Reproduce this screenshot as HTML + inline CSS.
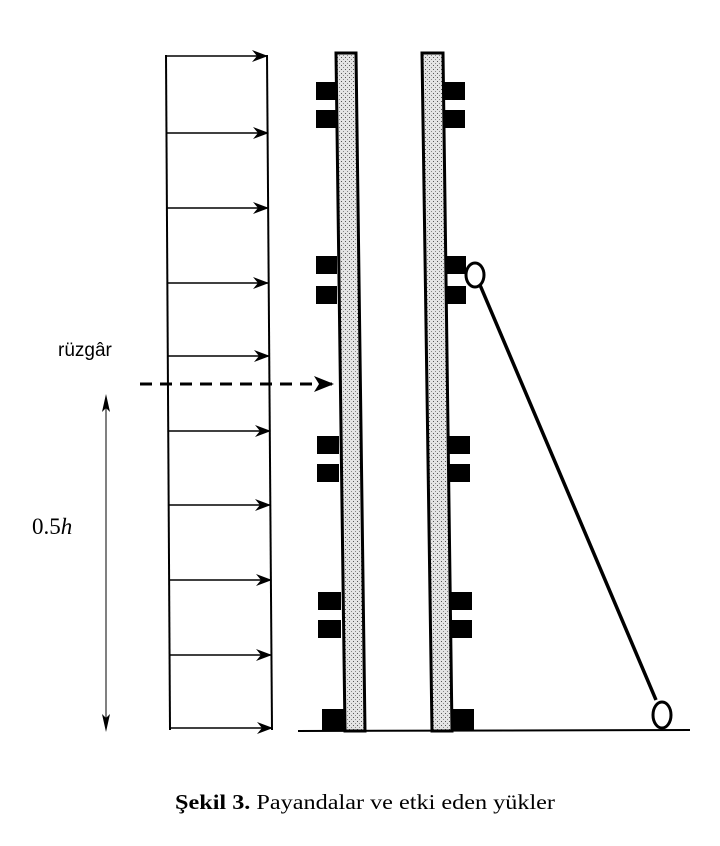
<!DOCTYPE html>
<html><head><style>body{margin:0;background:#fff}</style></head><body>
<svg width="720" height="841" xmlns="http://www.w3.org/2000/svg">
<defs>
<marker id="a" markerWidth="16" markerHeight="12" refX="15" refY="6" orient="auto" markerUnits="userSpaceOnUse"><path d="M0,0 L16,6 L0,12 L5,6z" fill="#000"/></marker>
<marker id="b" markerWidth="20" markerHeight="16" refX="19" refY="8" orient="auto" markerUnits="userSpaceOnUse"><path d="M0,0 L20,8 L0,16 L5,8z" fill="#000"/></marker>
<pattern id="p" width="4" height="4" patternUnits="userSpaceOnUse"><rect width="4" height="4" fill="#e4e4e4"/><rect x="1" y="1" width="1" height="1" fill="#555"/><rect x="3" y="3" width="1" height="1" fill="#888"/></pattern>
</defs>
<g stroke="#000" stroke-width="2" fill="none">
<line x1="166" y1="55" x2="170" y2="730"/>
<line x1="267" y1="55" x2="272" y2="730"/>
</g>
<g stroke="#000" stroke-width="1.5" marker-end="url(#a)">
<line x1="166" y1="56" x2="267" y2="56"/>
<line x1="166" y1="133" x2="268" y2="133"/>
<line x1="167" y1="208" x2="268" y2="208"/>
<line x1="167" y1="283" x2="268" y2="283"/>
<line x1="167" y1="356" x2="269" y2="356"/>
<line x1="168" y1="431" x2="270" y2="431"/>
<line x1="168" y1="505" x2="270" y2="505"/>
<line x1="169" y1="580" x2="271" y2="580"/>
<line x1="169" y1="655" x2="271" y2="655"/>
<line x1="170" y1="728" x2="272" y2="728"/>
</g>
<line x1="140" y1="384" x2="333" y2="384" stroke="#000" stroke-width="3" stroke-dasharray="12,8" marker-end="url(#b)"/>
<line x1="106" y1="398" x2="106" y2="728" stroke="#000" stroke-width="1"/>
<path d="M106,394 L102,412 L106,408 L110,412z M106,732 L102,714 L106,718 L110,714z" fill="#000"/>
<text x="58" y="356" font-family="Liberation Sans, sans-serif" font-size="19">rüzgâr</text>
<text x="32" y="534" font-family="Liberation Serif, serif" font-size="23">0.5<tspan font-style="italic">h</tspan></text>
<g fill="#000">
<rect x="316" y="82" width="20" height="18"/><rect x="316" y="110" width="20" height="18"/>
<rect x="316" y="256" width="21" height="18"/><rect x="316" y="286" width="21" height="18"/>
<rect x="317" y="436" width="22" height="18"/><rect x="317" y="464" width="22" height="18"/>
<rect x="318" y="592" width="23" height="18"/><rect x="318" y="620" width="23" height="18"/>
<rect x="322" y="709" width="24" height="21"/>
<rect x="444" y="82" width="21" height="18"/><rect x="444" y="110" width="21" height="18"/>
<rect x="445" y="256" width="21" height="18"/><rect x="445" y="286" width="21" height="18"/>
<rect x="448" y="436" width="22" height="18"/><rect x="448" y="464" width="22" height="18"/>
<rect x="450" y="592" width="22" height="18"/><rect x="450" y="620" width="22" height="18"/>
<rect x="450" y="709" width="24" height="21"/>
</g>
<g stroke="#000" stroke-width="3" fill="url(#p)">
<path d="M336,53 L356,53 L365,731 L345,731z"/>
<path d="M422,53 L443,53 L452,731 L432,731z"/>
</g>
<line x1="298" y1="731" x2="690" y2="730" stroke="#000" stroke-width="2"/>
<line x1="480" y1="285" x2="656" y2="700" stroke="#000" stroke-width="3.5"/>
<ellipse cx="475" cy="275" rx="9" ry="12" fill="#fff" stroke="#000" stroke-width="3"/>
<ellipse cx="662" cy="715" rx="9" ry="13" fill="#fff" stroke="#000" stroke-width="3"/>
<text x="175" y="809" font-family="Liberation Serif, serif" font-size="21" textLength="380" lengthAdjust="spacingAndGlyphs"><tspan font-weight="bold">Şekil 3.</tspan>  Payandalar ve etki eden yükler</text>
</svg>
</body></html>
